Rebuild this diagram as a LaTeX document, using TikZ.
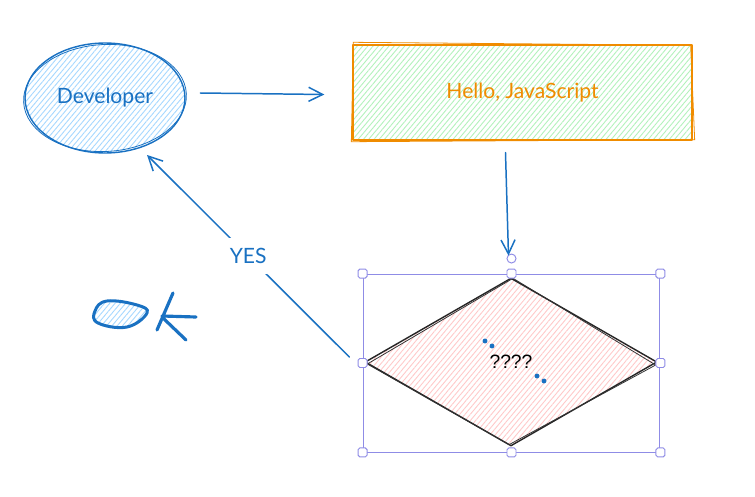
\documentclass[tikz,border=0pt]{standalone}
\usepackage{fontspec}
\setmainfont{Lato}
\newfontfamily\qfont{Liberation Sans}
\usetikzlibrary{arrows.meta,positioning,shapes.geometric,patterns.meta,calc}
\definecolor{devblue}{HTML}{1971C2}
\definecolor{hatchblue}{HTML}{A5D8FF}
\definecolor{jsorange}{HTML}{F08C00}
\definecolor{hatchgreen}{HTML}{B2F2BB}
\definecolor{hatchred}{HTML}{FFC9C9}
\definecolor{selblue}{HTML}{8F8CE6}

\begin{document}
\begin{tikzpicture}[x=0.02cm,y=-0.02cm,>={Straight Barb[length=8pt,width=8pt]},
  sketch/.style={line width=0.8pt,line join=round},
  hatch/.style={pattern={Lines[angle=50,distance=2.3pt,line width=0.5pt]},pattern color=#1},
  arr/.style={->,draw=devblue,line width=0.85pt,line cap=round},
  handle/.style={draw=selblue,fill=white,line width=0.55pt,minimum size=0.18cm,inner sep=0pt,rounded corners=1pt},
  txt/.style={font=\fontsize{12}{14}\selectfont}]
\useasboundingbox[fill=white] (0,0) rectangle (755,497);
\node[ellipse,draw=devblue,sketch,hatch=hatchblue,minimum width=3.2cm,minimum height=2.2cm,text=devblue,txt] (dev) at (105,98) {Developer};
\draw[devblue,line width=0.45pt,rotate around={3:(dev.center)}] (dev.center) ellipse [x radius=1.63cm,y radius=1.07cm];
\node[rectangle,draw=jsorange,sketch,hatch=hatchgreen,minimum width=6.78cm,minimum height=1.9cm,text=jsorange,txt] (hello) at (522.5,92.5) {Hello, JavaScript};
\draw[jsorange,line width=0.45pt] ($(hello.north west)+(1,-2)$) -- ($(hello.north east)+(-2,1)$) -- ($(hello.south east)+(2,-1)$) -- ($(hello.south west)+(-1,1)$) -- cycle;
\node[diamond,aspect=1.74,draw=black!85,sketch,hatch=hatchred,minimum width=5.84cm,minimum height=3.36cm,inner sep=0pt,font=\qfont\fontsize{11}{13}\selectfont] (q) at (511,362) {????};
\draw[black!80,line width=0.45pt] ($(q.north)+(2,1)$) -- ($(q.east)+(-2,3)$) -- ($(q.south)+(-2,-2)$) -- ($(q.west)+(3,2)$) -- cycle;
% selection frame round the decision
\node[draw=selblue,line width=0.55pt,minimum width=5.94cm,minimum height=3.56cm,inner sep=0pt] (sel) at (511.5,363) {};
\foreach \a in {north west,north,north east,east,south east,south,south west,west}
  \node[handle] (h-\a) at (sel.\a) {};
\node[circle,draw=selblue,fill=white,line width=0.55pt,minimum size=0.18cm,inner sep=0pt] (rot) at ($(sel.north)+(0,-15)$) {};
\foreach \p in {(485,341),(492,346),(537,376),(544,381)}
  \fill[devblue] \p circle (1.4pt);
% connectors
\draw[arr] ($(dev.east)+(15,-5)$) -- ($(hello.west)+(-28,2)$);
\draw[arr] ($(hello.south)+(-17,12)$) -- ($(rot.north)+(-3,2)$);
\draw[arr] ($(q.west)+(-15,-5)$) -- node[fill=white,text=devblue,txt,inner sep=0pt,minimum width=0.75cm,minimum height=0.74cm] (yes) {YES} ($(dev.center)+(42,57)$);
% OK scribble
\draw[devblue,line width=1.7pt,hatch=hatchblue] plot[smooth cycle,tension=0.7] coordinates {(107,301) (137,305) (147,313) (127,327) (98,323) (95,311)};
\draw[devblue,line width=1.8pt,line cap=round] (173,293) -- (157,330) (162,316) -- (196,317) (163,318) -- (186,340);
\end{tikzpicture}
\end{document}
